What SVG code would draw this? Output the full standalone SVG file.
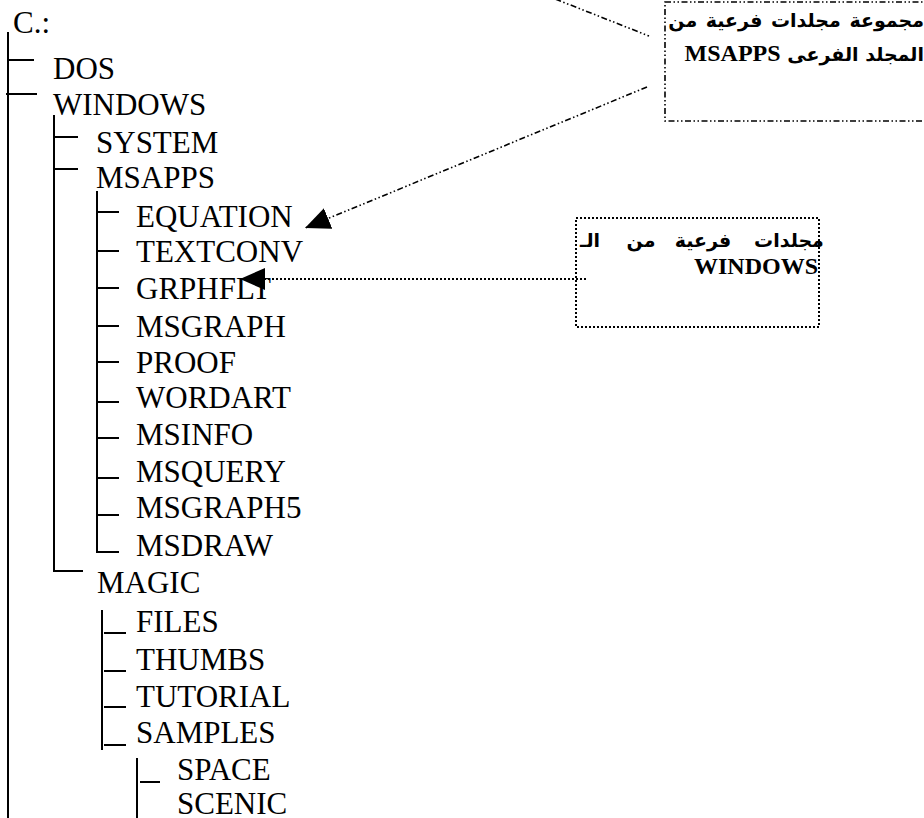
<svg xmlns="http://www.w3.org/2000/svg" width="924" height="818" viewBox="0 0 924 818">
<style>
svg text.t{font-family:'Liberation Serif',serif !important;font-size:31px;fill:#000}
.tr{stroke:#000;stroke-width:2;fill:none}
svg text.ar{font-family:'DejaVu Sans',sans-serif;font-weight:bold;font-size:19px;fill:#000}
.am{text-anchor:middle}
svg .lb{font-family:'Liberation Serif',serif !important;font-weight:bold;font-size:24px;fill:#000}
.dd{stroke:#000;stroke-width:1.6;fill:none;stroke-dasharray:6 2.5 1.5 2.5 1.5 2.5}
.dt{stroke:#000;stroke-width:2;fill:none;stroke-dasharray:2 2}
</style>
<defs>
<marker id="ah" markerUnits="userSpaceOnUse" markerWidth="26" markerHeight="24" refX="25" refY="11" orient="auto">
<path d="M0,0 L25,11 L0,22 z" fill="#000"/>
</marker>
</defs>
<rect width="924" height="818" fill="#fff"/>
<g id="connectors">
<path class="tr" d="M8,32 V818 M8,60 H34 M6,94 H37"/>
<path class="tr" d="M54,115 V571 H83 M54,137 H78 M54,169 H78"/>
<path class="tr" d="M97,191 V552 H119 M97,212 H119 M97,251 H119 M97,288 H119 M97,326 H119 M97,362 H119 M97,402 H119 M97,438 H119 M97,478 H119 M97,515 H119"/>
<path class="tr" d="M102,610 V750 M104,633 H126 M104,671 H126 M104,707 H126 M104,745 H126"/>
<path class="tr" d="M137,758 V818 M140,782 H160"/>
<path class="dd" d="M540,-7 L649,36"/>
<path class="dd" d="M647,87 L305,228" marker-end="url(#ah)"/>
<path class="dt" d="M586,279 L240,279" marker-end="url(#ah)"/>
</g>
<g id="n-c"><text class="t" x="13" y="33" font-family="Liberation Serif">C.:</text></g>
<g id="n-dos"><text class="t" x="53" y="79" font-family="Liberation Serif">DOS</text></g>
<g id="n-windows"><text class="t" x="53" y="115" font-family="Liberation Serif">WINDOWS</text></g>
<g id="n-system"><text class="t" x="96" y="153" font-family="Liberation Serif">SYSTEM</text></g>
<g id="n-msapps"><text class="t" x="96" y="188" font-family="Liberation Serif">MSAPPS</text></g>
<g id="n-equation"><text class="t" x="136" y="227" font-family="Liberation Serif">EQUATION</text></g>
<g id="n-textconv"><text class="t" x="136" y="262" font-family="Liberation Serif">TEXTCONV</text></g>
<g id="n-grphflt"><text class="t" x="136" y="299" font-family="Liberation Serif">GRPHFLT</text></g>
<g id="n-msgraph"><text class="t" x="136" y="337" font-family="Liberation Serif">MSGRAPH</text></g>
<g id="n-proof"><text class="t" x="136" y="373" font-family="Liberation Serif">PROOF</text></g>
<g id="n-wordart"><text class="t" x="136" y="408" font-family="Liberation Serif">WORDART</text></g>
<g id="n-msinfo"><text class="t" x="136" y="445" font-family="Liberation Serif">MSINFO</text></g>
<g id="n-msquery"><text class="t" x="136" y="482" font-family="Liberation Serif">MSQUERY</text></g>
<g id="n-msgraph5"><text class="t" x="136" y="518" font-family="Liberation Serif">MSGRAPH5</text></g>
<g id="n-msdraw"><text class="t" x="136" y="556" font-family="Liberation Serif">MSDRAW</text></g>
<g id="n-magic"><text class="t" x="97" y="593" font-family="Liberation Serif">MAGIC</text></g>
<g id="n-files"><text class="t" x="136" y="632" font-family="Liberation Serif">FILES</text></g>
<g id="n-thumbs"><text class="t" x="136" y="670" font-family="Liberation Serif">THUMBS</text></g>
<g id="n-tutorial"><text class="t" x="136" y="707" font-family="Liberation Serif">TUTORIAL</text></g>
<g id="n-samples"><text class="t" x="136" y="743" font-family="Liberation Serif">SAMPLES</text></g>
<g id="n-space"><text class="t" x="177" y="780" font-family="Liberation Serif">SPACE</text></g>
<g id="n-scenic"><text class="t" x="177" y="814" font-family="Liberation Serif">SCENIC</text></g>
<g id="note-msapps">
<rect class="dd" x="665" y="2" width="300" height="119"/>
<text class="ar" x="924" y="27" direction="rtl" text-anchor="start" word-spacing="2">مجموعة مجلدات فرعية من</text>
<text class="ar" x="924" y="61" direction="rtl" text-anchor="start">المجلد الفرعى <tspan class="lb" font-family="Liberation Serif">MSAPPS</tspan></text>
</g>
<g id="note-windows">
<rect class="dt" x="576" y="218" width="243" height="109"/>
<text class="ar am" x="789" y="247">مجلدات</text>
<text class="ar am" x="703" y="247">فرعية</text>
<text class="ar am" x="641" y="247">من</text>
<text class="ar am" x="590" y="247">الـ</text>
<text class="lb" x="818" y="274" text-anchor="end" font-family="Liberation Serif">WINDOWS</text>
</g>
</svg>
